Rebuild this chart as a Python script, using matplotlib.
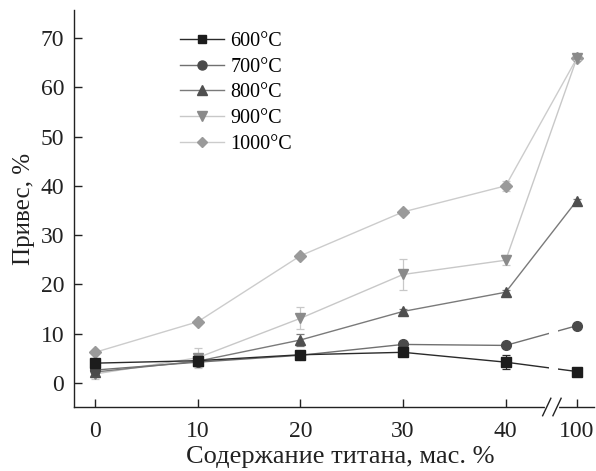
import numpy as np
import matplotlib.pyplot as plt
from matplotlib.lines import Line2D

plt.rcParams['font.family'] = ['Liberation Serif', 'DejaVu Serif']

# Данные: содержание титана (мас. %) и привес (%) для разных температур
ti = [0, 10, 20, 30, 40, 100]
w600 = [4.0, 4.5, 5.7, 6.2, 4.2, 2.3]
w700 = [2.6, 4.2, 5.6, 7.8, 7.6, 11.6]
w800 = [2.2, 4.4, 8.7, 14.5, 18.4, 37.0]
w900 = [1.8, 5.1, 13.1, 22.0, 24.9, 65.9]
w1000 = [6.2, 12.4, 25.8, 34.7, 40.0, 65.9]

e600 = [0.4, 0.3, 0.8, 0.4, 1.4, 0.3]
e700 = [0.3, 0.3, 0.5, 0.4, 0.4, 0.3]
e800 = [0.4, 0.3, 1.3, 0.5, 0.5, 0.4]
e900 = [1.0, 2.0, 2.2, 3.1, 1.0, 0.4]
e1000 = [0.3, 0.4, 0.4, 0.4, 1.0, 0.4]

series = [
    ('600°C', w600, e600, 's', '#1c1c1c', '#2a2a2a', 6.5),
    ('700°C', w700, e700, 'o', '#4a4a4a', '#707070', 7.0),
    ('800°C', w800, e800, '^', '#4f4f4f', '#7a7a7a', 7.0),
    ('900°C', w900, e900, 'v', '#8a8a8a', '#c8c8c8', 7.0),
    ('1000°C', w1000, e1000, 'D', '#9a9a9a', '#cccccc', 6.0),
]

# разрыв оси: 0..40 линейно, 100 сдвинуто ближе
K = 6.93 / 60.0


def fwd(x):
    x = np.asarray(x, dtype=float)
    return np.where(x <= 40, x, 40 + (x - 40) * K)


def inv(y):
    y = np.asarray(y, dtype=float)
    return np.where(y <= 40, y, 40 + (y - 40) / K)


fig = plt.figure(figsize=(5.96, 4.71), dpi=100)
ax = fig.add_axes([0.1242, 0.1359, 0.8724, 0.8429])
ax.set_xscale('function', functions=(fwd, inv))

for i, (lab, y, err, m, mc, lc, ms) in enumerate(series[::-1]):
    z = 3 + i
    ax.errorbar(ti, y, yerr=err, fmt='none', ecolor=lc, elinewidth=0.9,
                capsize=3, capthick=0.9, zorder=z)
    ax.plot(ti, y, '-', color=lc, lw=1.0, zorder=z)
    ax.plot(ti, y, m, color=mc, ms=ms, mec=mc, zorder=z + 0.5)

handles = []
for lab, y, err, m, mc, lc, ms in series:
    handles.append(Line2D([], [], color=lc, lw=1.0, marker=m, mfc=mc, mec=mc,
                          ms=ms - 0.5, label=lab))

# белый промежуток в нижних линиях у разрыва
ax.axvspan(float(inv(44.2)), float(inv(45.1)), ymin=0.0, ymax=0.28,
           color='white', zorder=20, lw=0)

ax.set_xlim(float(inv(-2.05)), float(inv(48.6)))
ax.set_ylim(-4.9, 75.7)
ax.set_xticks(ti)
ax.set_xticklabels([str(t) for t in ti])
ax.set_yticks(range(0, 71, 10))

for s in ['top', 'right']:
    ax.spines[s].set_visible(False)
for s in ['left', 'bottom']:
    ax.spines[s].set_linewidth(1.0)
    ax.spines[s].set_color('#222222')

ax.tick_params(direction='in', length=6, width=1.0, colors='#222222',
               labelsize=17, labelcolor='#222222', pad=7)
ax.tick_params(axis='x', pad=10)

# метки разрыва на оси x
trans = ax.get_xaxis_transform()
ax.plot([float(inv(44.0)), float(inv(45.0))], [0, 0], color='white', lw=3,
        transform=trans, clip_on=False, zorder=25)
for p in (43.6, 44.6):
    ax.plot([float(inv(p)), float(inv(p + 0.8))], [-0.022, 0.022], color='#222222',
            lw=1.0, transform=trans, clip_on=False, zorder=26)

ax.set_xlabel('Содержание титана, мас. %', fontsize=19, color='#222222', labelpad=0)
ax.xaxis.set_label_coords(0.512, -0.097, transform=ax.transAxes)
ax.xaxis.label.set_va('top')
ax.set_ylabel('Привес, %', fontsize=18, color='#222222', labelpad=4)

leg = ax.legend(handles=handles, loc='upper left', bbox_to_anchor=(0.204, 0.945),
                frameon=False, fontsize=14.5, handlelength=2.2, handletextpad=0.3,
                labelspacing=0.33, borderaxespad=0, borderpad=0)

fig.savefig('out.png', dpi=100)
